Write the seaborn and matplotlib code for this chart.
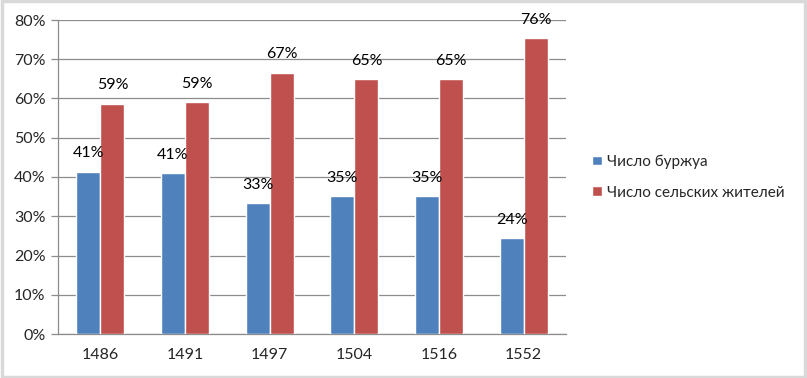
import matplotlib
matplotlib.use("Agg")
import matplotlib.pyplot as plt
import seaborn as sns
import pandas as pd
from matplotlib.patches import Rectangle
from matplotlib.ticker import FixedLocator

years = ["1486", "1491", "1497", "1504", "1516", "1552"]
series_names = ["Число буржуа", "Число сельских жителей"]
bourgeois = [41.4, 41.1, 33.4, 35.2, 35.2, 24.5]
rural = [58.7, 59.2, 66.6, 64.9, 64.9, 75.5]
y_ticks = [0, 10, 20, 30, 40, 50, 60, 70, 80]

df = pd.DataFrame({
    "year": years * 2,
    "series": [series_names[0]] * len(years) + [series_names[1]] * len(years),
    "value": bourgeois + rural,
})

sns.set_style("white")
plt.rcParams["font.family"] = ["Lato", "DejaVu Sans"]
FS = 11.5

fig = plt.figure(figsize=(8.07, 3.78), dpi=100)
ax = fig.add_axes([58 / 807, 44 / 378, (566 - 58) / 807, (334 - 20) / 378])

palette = {series_names[0]: "#4F81BD", series_names[1]: "#C0504D"}
sns.barplot(data=df, x="year", y="value", hue="series", order=years,
            hue_order=series_names, palette=palette, width=0.57, gap=0,
            saturation=1, ax=ax, legend=True, zorder=3)

for cont in ax.containers:
    ax.bar_label(cont, labels=[f"{round(b.get_height()):.0f}%" for b in cont],
                 padding=8, fontsize=FS, color="#000000")

ax.set_ylim(0, 80)
ax.set_xlim(-0.5, len(years) - 0.5)
ax.set_yticks(y_ticks)
ax.set_yticklabels([f"{v}%" for v in y_ticks], fontsize=FS)
ax.yaxis.grid(True, color="#8C8C8C", linewidth=0.9, zorder=0)
ax.set_axisbelow(True)
ax.set_xlabel("")
ax.set_ylabel("")
ax.tick_params(axis="x", which="major", length=0, labelsize=FS, pad=10)
ax.xaxis.set_minor_locator(FixedLocator([i - 0.5 for i in range(len(years) + 1)]))
ax.tick_params(axis="x", which="minor", length=5, color="#8C8C8C", width=0.9)
ax.tick_params(axis="y", length=5, color="#8C8C8C", width=0.9, pad=4, left=True)

for side in ["top", "right"]:
    ax.spines[side].set_visible(False)
for side in ["left", "bottom"]:
    ax.spines[side].set_color("#8C8C8C")
    ax.spines[side].set_linewidth(0.9)

leg = ax.legend(loc="center left", bbox_to_anchor=(1.025, 0.5), frameon=False,
                fontsize=FS - 0.5, handlelength=0.6, handleheight=0.6,
                handletextpad=0.35, labelspacing=1.1)

fig.patches.append(Rectangle((0.002, 0.003), 0.996, 0.994, transform=fig.transFigure,
                             fill=False, edgecolor="#D9D9D9", linewidth=2.5))

fig.savefig("out.png", dpi=100)
